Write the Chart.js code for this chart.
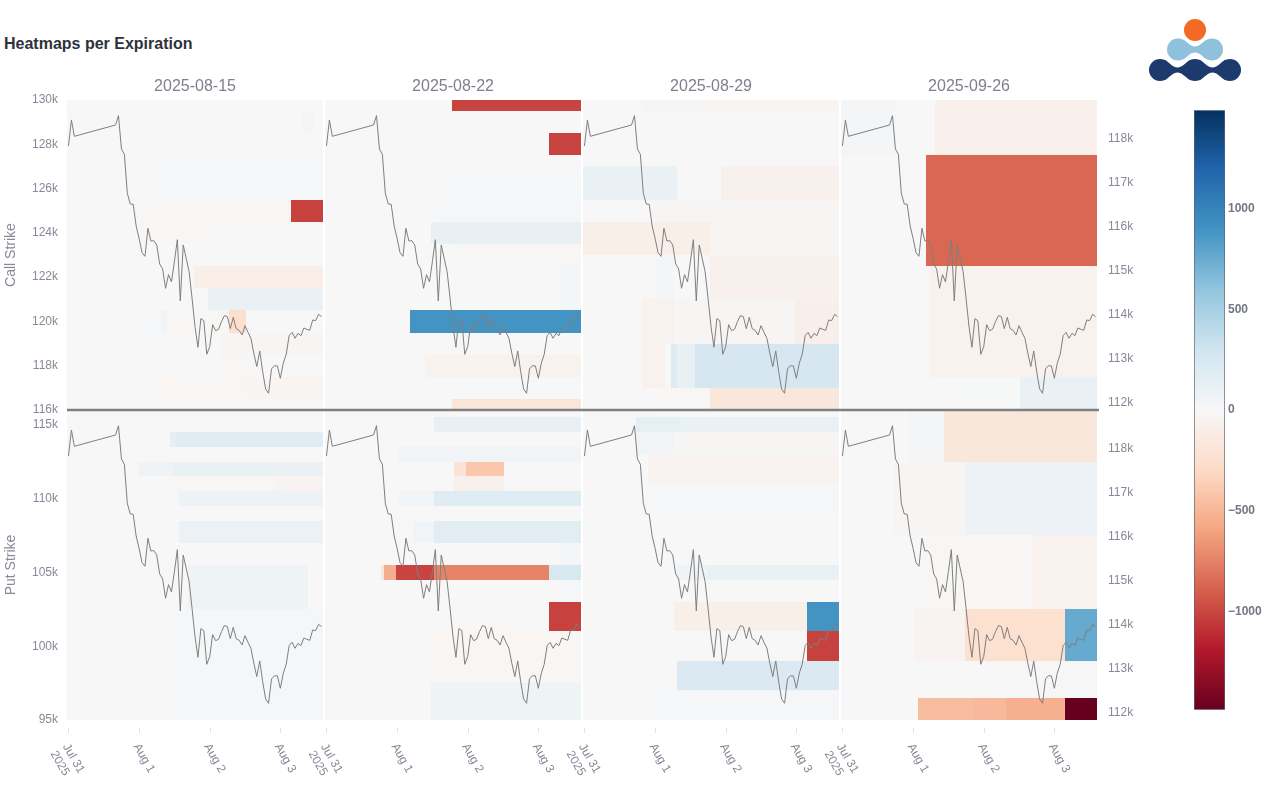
<!DOCTYPE html>
<html>
<head>
<meta charset="utf-8">
<title>Heatmaps per Expiration</title>
<script src="https://cdn.jsdelivr.net/npm/chart.js@4"></script>
<style>
  html, body { margin: 0; padding: 0; background: #fff; width: 1265px; height: 800px; overflow: hidden; }
  canvas { position: absolute; }
  #main-title { position: absolute; left: 4px; top: 35px; font: bold 16px "Liberation Sans", Arial, sans-serif; color: #2f323c; }
  #logo { position: absolute; left: 1140px; top: 10px; }
</style>
</head>
<body>
<div id="main-title">Heatmaps per Expiration</div>
<svg id="logo" width="110" height="80" viewBox="1140 10 110 80">
  <circle cx="1195" cy="30" r="11" fill="#f26a25"/>
  <g fill="#8fc1dc">
    <circle cx="1178" cy="49.5" r="11"/><circle cx="1212" cy="49.5" r="11"/>
    <path d="M1183 40 C1188 42 1190 46.5 1195 46.5 C1200 46.5 1202 42 1207 40 L1207 59 C1202 57 1200 52.5 1195 52.5 C1190 52.5 1188 57 1183 59 Z"/>
  </g>
  <g fill="#1c3a6b">
    <circle cx="1160" cy="70" r="11"/><circle cx="1195" cy="70" r="11"/><circle cx="1230" cy="70" r="11"/>
    <path d="M1165 60 C1170 63 1173 67.5 1177.5 67.5 C1182 67.5 1185 63 1190 60 L1190 80 C1185 77 1182 72.5 1177.5 72.5 C1173 72.5 1170 77 1165 80 Z"/>
    <path d="M1200 60 C1205 63 1208 67.5 1212.5 67.5 C1217 67.5 1220 63 1225 60 L1225 80 C1220 77 1217 72.5 1212.5 72.5 C1208 72.5 1205 77 1200 80 Z"/>
  </g>
</svg>
<script>
// --- DATA ---
const expirations = ['2025-08-15', '2025-08-22', '2025-08-29', '2025-09-26'];

// hours since Jul 31 00:00 and the spot price
const hours = [0, 1, 2, 16, 17, 18, 19, 20, 21, 22, 23, 24, 25, 26, 27, 28, 29, 30, 31, 32, 33, 34, 35, 36, 37, 38, 39, 40, 41, 42, 43, 44, 45, 46, 47, 48, 49, 50, 51, 52, 53, 54, 55, 56, 57, 58, 59, 60, 61, 62, 63, 64, 65, 66, 67, 68, 69, 70, 71, 72, 73, 74, 75, 76, 77, 78, 79, 80, 81, 82, 83, 84, 85, 86];
const spotPrice = [117841, 118432, 118061, 118318, 118530, 117773, 117652, 116765, 116523, 116515, 116023, 115742, 115417, 115333, 115970, 115682, 115689, 115591, 115159, 115045, 114606, 114917, 114750, 115212, 115712, 114318, 115591, 115288, 114985, 114379, 113735, 113265, 113917, 113871, 113106, 113280, 113780, 113644, 113674, 113848, 113985, 113962, 113689, 113947, 113689, 113651, 113545, 113757, 113606, 113470, 113129, 112826, 113182, 112712, 112318, 112220, 112773, 112848, 112841, 112561, 112901, 113106, 113530, 113606, 113470, 113583, 113530, 113704, 113674, 113651, 113886, 113871, 114015, 113962];

const xTickHours = [0, 24, 48, 72];
const xTickLabels = [['Jul 31', '2025'], 'Aug 1', 'Aug 2', 'Aug 3'];
const callStrikeTicks = [116000, 118000, 120000, 122000, 124000, 126000, 128000, 130000];
const putStrikeTicks = [95000, 100000, 105000, 110000, 115000];
const priceTicks = [112000, 113000, 114000, 115000, 116000, 117000, 118000];
const colorbarTicks = [-1000, -500, 0, 500, 1000];

// cells: hour from, hour to, strike low, strike high, value
const callCells0815 = [
  [31.5, 86.5, 126500, 127500, 12], [28.5, 86.5, 125500, 126500, 12],
  [22.5, 75.5, 124500, 125500, -12], [75.5, 86.5, 124500, 125500, -1020], [24.5, 51.5, 123500, 124500, -15],
  [42.5, 86.5, 121500, 122500, -95], [47.5, 86.5, 120500, 121500, 105],
  [79.5, 83.5, 128500, 129500, 30],
  [23.5, 31.5, 119500, 120500, 12], [31.5, 33.5, 119500, 120500, 55], [35.5, 54.5, 119500, 120500, -15],
  [54.5, 60.5, 119500, 120500, -260], [60.5, 75.5, 119500, 120500, 8],
  [51.5, 86.5, 118500, 119500, -30], [51.5, 60.5, 117500, 118500, -10],
  [31.5, 37.5, 116500, 117500, -25], [37.5, 60.5, 116500, 117500, -15], [60.5, 86.5, 116500, 117500, -28]
];
const callCells0822 = [
  [42.5, 86.5, 129500, 130000, -1010], [75.5, 86.5, 127500, 128500, -1010],
  [39.5, 86.5, 125500, 126500, 12], [37.5, 86.5, 124500, 125500, 18],
  [35.5, 86.5, 123500, 124500, 110], [45.5, 86.5, 122500, 123500, -10],
  [79.5, 86.5, 121500, 122500, 25], [79.5, 86.5, 120500, 121500, 35],
  [28.5, 86.5, 119500, 120500, 890], [33.5, 86.5, 117500, 118500, -55],
  [42.5, 86.5, 116000, 116500, -190]
];
const callCells0829 = [
  [19.5, 42.5, 129500, 130000, -18], [42.5, 86.5, 129500, 130000, -35],
  [-0.5, 31.5, 125500, 127000, 100], [46.5, 86.5, 125500, 127000, -70],
  [22.5, 86.5, 124500, 125500, -18],
  [-0.5, 42.5, 123000, 124500, -85], [42.5, 86.5, 123000, 124500, -18],
  [42.5, 86.5, 121000, 123000, -70], [24.5, 30.5, 121000, 123000, 35],
  [19.5, 30.5, 119000, 121000, -55], [30.5, 71.5, 119000, 121000, -22], [71.5, 86.5, 119000, 121000, -80],
  [19.5, 27.5, 117000, 119000, -60],
  [29.5, 31.5, 117000, 119000, 200], [31.5, 37.5, 117000, 119000, 110], [37.5, 86.5, 117000, 119000, 260],
  [26.5, 42.5, 116000, 117000, -10], [42.5, 86.5, 116000, 117000, -170]
];
const callCells0926 = [
  [-0.5, 18.5, 127500, 130000, 25], [31.5, 86.5, 127500, 130000, -75],
  [28.5, 86.5, 122500, 127500, -865],
  [29.5, 86.5, 117500, 122500, -65],
  [60.5, 86.5, 116000, 117500, 100], [35.5, 60.5, 116000, 117500, 6]
];
const putCells0815 = [
  [34.5, 36.5, 113500, 114500, 140], [36.5, 86.5, 113500, 114500, 190],
  [23.5, 35.5, 111500, 112500, 60], [35.5, 86.5, 111500, 112500, 100],
  [33.5, 70.5, 110500, 111500, -15], [70.5, 86.5, 110500, 111500, -40],
  [32.5, 37.5, 109500, 110500, 12], [37.5, 86.5, 109500, 110500, 75],
  [37.5, 86.5, 107000, 108500, 95],
  [40.5, 81.5, 102500, 105500, 70],
  [32.5, 86.5, 95000, 102500, 20]
];
const putCells0822 = [
  [36.5, 86.5, 114500, 115500, 110],
  [24.5, 86.5, 112500, 113500, 50],
  [43.5, 47.5, 111500, 112500, -220], [47.5, 60.5, 111500, 112500, -410],
  [43.5, 60.5, 110500, 111500, -70],
  [24.5, 36.5, 109500, 110500, 50], [36.5, 86.5, 109500, 110500, 190],
  [29.5, 36.5, 107000, 108500, 50], [36.5, 86.5, 107000, 108500, 170],
  [79.5, 86.5, 105500, 107000, 30],
  [18.5, 19.5, 104500, 105500, -180], [19.5, 23.5, 104500, 105500, -550],
  [23.5, 36.5, 104500, 105500, -1010], [36.5, 75.5, 104500, 105500, -740], [75.5, 86.5, 104500, 105500, 250],
  [79.5, 86.5, 103000, 104500, 20],
  [75.5, 86.5, 101000, 103000, -1020],
  [35.5, 86.5, 97500, 101000, -25],
  [35.5, 86.5, 95000, 97500, 70]
];
const putCells0829 = [
  [17.5, 32.5, 114500, 115500, 130], [32.5, 86.5, 114500, 115500, 100],
  [17.5, 30.5, 113000, 114500, 50], [30.5, 86.5, 113000, 114500, -20],
  [21.5, 86.5, 111000, 113000, -45],
  [23.5, 86.5, 109000, 111000, 12],
  [31.5, 41.5, 104500, 105500, 60], [41.5, 86.5, 104500, 105500, 100],
  [30.5, 75.5, 101000, 103000, -90], [75.5, 86.5, 101000, 103000, 890],
  [75.5, 86.5, 99000, 101000, -1020],
  [31.5, 86.5, 97000, 99000, 225],
  [23.5, 86.5, 95000, 97000, 15]
];
const putCells0926 = [
  [22.5, 34.5, 112500, 116000, 30], [34.5, 86.5, 112500, 116000, -170],
  [17.5, 41.5, 107500, 112500, -20], [41.5, 86.5, 107500, 112500, 90],
  [27.5, 64.5, 102500, 107500, -15], [64.5, 86.5, 102500, 107500, -60],
  [24.5, 41.5, 99000, 102500, -40], [41.5, 75.5, 99000, 102500, -240], [75.5, 86.5, 99000, 102500, 757],
  [48.5, 86.5, 96500, 99000, 10],
  [25.5, 44.5, 95000, 96500, -470], [44.5, 55.5, 95000, 96500, -490], [55.5, 75.5, 95000, 96500, -540],
  [75.5, 86.5, 95000, 96500, -1490]
];

const colorMin = -1490;
const colorMax = 1490;
const colorStops = [[103, 0, 31], [178, 24, 43], [214, 96, 77], [244, 165, 130], [253, 219, 199], [247, 247, 247], [209, 229, 240], [146, 197, 222], [67, 147, 195], [33, 102, 172], [5, 48, 97]];

// --- STYLE ---
const FONT = '"Liberation Sans", Arial, sans-serif';
const TICK_COLOR = '#868997';
const HOUR_MIN = -0.5;
const HOUR_MAX = 86.5;
const PANEL_LEFT = [67, 325, 583, 841];
const PANEL_WIDTH = 256;
const SIDE_GUTTER = 30;

function colorFor(value) {
  const t = Math.min(1, Math.max(0, (value - colorMin) / (colorMax - colorMin))) * (colorStops.length - 1);
  const i = Math.min(colorStops.length - 2, Math.floor(t));
  const f = t - i;
  const c = colorStops[i].map((v, k) => Math.round(v + (colorStops[i + 1][k] - v) * f));
  return `rgb(${c[0]},${c[1]},${c[2]})`;
}

function kLabel(v) {
  return (v / 1000) + 'k';
}

function addCanvas(left, top, width, height) {
  const c = document.createElement('canvas');
  c.width = width;
  c.height = height;
  c.style.left = left + 'px';
  c.style.top = top + 'px';
  c.style.width = width + 'px';
  c.style.height = height + 'px';
  document.body.appendChild(c);
  return c;
}

// draws the heat cells, the row divider and the detached x ticks through the chart scales
function heatPlugin(cells, isTop) {
  return {
    id: 'heatCells',
    beforeDatasetsDraw(chart) {
      const { ctx, chartArea, scales } = chart;
      ctx.save();
      ctx.fillStyle = colorFor(0);
      ctx.fillRect(chartArea.left, chartArea.top, chartArea.width, chartArea.height);
      cells.forEach(([h0, h1, s0, s1, v]) => {
        const x0 = Math.round(scales.x.getPixelForValue(h0));
        const x1 = Math.round(scales.x.getPixelForValue(h1));
        const y0 = Math.round(scales.y.getPixelForValue(s1));
        const y1 = Math.round(scales.y.getPixelForValue(s0));
        ctx.fillStyle = colorFor(v);
        ctx.fillRect(x0, y0, x1 - x0, y1 - y0);
      });
      ctx.restore();
    },
    afterDatasetsDraw(chart) {
      const { ctx, chartArea, scales } = chart;
      ctx.save();
      if (isTop) {
        const y = scales.y.getPixelForValue(scales.y.min);
        ctx.strokeStyle = '#808080';
        ctx.lineWidth = 2.5;
        ctx.beginPath();
        ctx.moveTo(chartArea.left, y);
        ctx.lineTo(chartArea.right + 2, y);
        ctx.stroke();
      } else {
        ctx.strokeStyle = '#e2e2e2';
        ctx.lineWidth = 1;
        xTickHours.forEach(h => {
          const x = Math.round(scales.x.getPixelForValue(h)) + 0.5;
          ctx.beginPath();
          ctx.moveTo(x, chartArea.bottom + 8);
          ctx.lineTo(x, chartArea.bottom + 13);
          ctx.stroke();
        });
      }
      ctx.restore();
    }
  };
}

function makePanel(col, isTop, cells) {
  const showLeft = col === 0;
  const showRight = col === 3;
  const gutterL = showLeft ? PANEL_LEFT[0] : SIDE_GUTTER;
  const gutterR = showRight ? 43 : SIDE_GUTTER;
  const top = isTop ? 77 : 410;
  const height = isTop ? 343 : 380;
  const canvas = addCanvas(PANEL_LEFT[col] - gutterL, top, gutterL + PANEL_WIDTH + gutterR, height);

  new Chart(canvas.getContext('2d'), {
    type: 'line',
    data: {
      datasets: [{
        data: hours.map((h, i) => ({ x: h, y: spotPrice[i] })),
        xAxisID: 'x',
        yAxisID: 'y1',
        borderColor: '#7f7f7f',
        borderWidth: 1,
        pointRadius: 0,
        tension: 0
      }]
    },
    options: {
      responsive: false,
      animation: false,
      devicePixelRatio: 1,
      events: [],
      layout: {
        padding: {
          left: showLeft ? 0 : SIDE_GUTTER,
          right: showRight ? 0 : SIDE_GUTTER,
          top: 0,
          bottom: isTop ? 10 : 0
        }
      },
      plugins: {
        legend: { display: false },
        tooltip: { enabled: false },
        title: {
          display: isTop,
          fullSize: false,
          text: expirations[col],
          color: '#7d808d',
          font: { family: FONT, size: 16, weight: 'normal', lineHeight: '20px' },
          padding: { top: 0, bottom: 3 }
        }
      },
      scales: {
        x: {
          type: 'linear',
          min: HOUR_MIN,
          max: HOUR_MAX,
          display: !isTop,
          grid: { display: false, drawTicks: false },
          border: { display: false },
          afterBuildTicks: s => { s.ticks = xTickHours.map(v => ({ value: v })); },
          afterFit: s => {
            if (isTop) return;
            s.height = 70;
            s.paddingLeft = 0;
            s.paddingRight = 0;
            s._getXAxisLabelAlignment = () => 'left';
          },
          ticks: {
            autoSkip: false,
            minRotation: -60,
            maxRotation: -60,
            padding: 21,
            labelOffset: -3,
            color: TICK_COLOR,
            font: { family: FONT, size: 12 },
            callback: (v, i) => xTickLabels[i]
          }
        },
        y: {
          type: 'linear',
          position: 'left',
          min: isTop ? 116000 : 95000,
          max: isTop ? 130000 : 116000,
          display: showLeft,
          grid: { display: false, drawTicks: false },
          border: { display: false },
          afterBuildTicks: s => { s.ticks = (isTop ? callStrikeTicks : putStrikeTicks).map(v => ({ value: v })); },
          afterFit: s => {
            if (!showLeft) return;
            s.width = PANEL_LEFT[0];
            s.paddingTop = 0;
            s.paddingBottom = 0;
          },
          title: {
            display: true,
            text: isTop ? 'Call Strike' : 'Put Strike',
            color: TICK_COLOR,
            font: { family: FONT, size: 14 },
            padding: { top: 3, bottom: 0 }
          },
          ticks: {
            padding: 9,
            color: TICK_COLOR,
            font: { family: FONT, size: 12 },
            callback: kLabel
          }
        },
        y1: {
          type: 'linear',
          position: 'right',
          min: 111840,
          max: 118886,
          display: showRight,
          grid: { display: false, drawTicks: false },
          border: { display: false },
          afterBuildTicks: s => { s.ticks = priceTicks.map(v => ({ value: v })); },
          afterFit: s => {
            if (!showRight) return;
            s.width = 43;
            s.paddingTop = 0;
            s.paddingBottom = 0;
          },
          ticks: {
            padding: 11,
            color: TICK_COLOR,
            font: { family: FONT, size: 12 },
            callback: kLabel
          }
        }
      }
    },
    plugins: [heatPlugin(cells, isTop)]
  });
}

function makeColorbar() {
  const canvas = addCanvas(1194, 100, 71, 620);
  new Chart(canvas.getContext('2d'), {
    type: 'bar',
    data: {
      labels: ['value'],
      datasets: [{
        data: [[colorMin, colorMax]],
        barPercentage: 1,
        categoryPercentage: 1,
        borderSkipped: false,
        borderWidth: 1,
        borderColor: '#5f6470',
        backgroundColor: ctx => {
          const area = ctx.chart.chartArea;
          if (!area) return '#cccccc';
          const g = ctx.chart.ctx.createLinearGradient(0, area.bottom, 0, area.top);
          colorStops.forEach((c, i) => g.addColorStop(i / (colorStops.length - 1), `rgb(${c[0]},${c[1]},${c[2]})`));
          return g;
        }
      }]
    },
    options: {
      responsive: false,
      animation: false,
      devicePixelRatio: 1,
      events: [],
      layout: { padding: { top: 10, bottom: 10 } },
      plugins: { legend: { display: false }, tooltip: { enabled: false } },
      scales: {
        x: { display: false },
        y: {
          position: 'right',
          min: colorMin,
          max: colorMax,
          grid: { display: false, drawTicks: false },
          border: { display: false },
          afterBuildTicks: s => { s.ticks = colorbarTicks.map(v => ({ value: v })); },
          afterFit: s => { s.width = 40; },
          ticks: {
            padding: 3,
            color: '#737684',
            font: { family: FONT, size: 12, weight: 'bold' },
            callback: v => (v < 0 ? '\u2212' + Math.abs(v) : String(v))
          }
        }
      }
    }
  });
}

// --- MAIN ---
const callCells = [callCells0815, callCells0822, callCells0829, callCells0926];
const putCells = [putCells0815, putCells0822, putCells0829, putCells0926];
// bottom row first so the divider of the top row stays on top
expirations.forEach((_, col) => makePanel(col, false, putCells[col]));
expirations.forEach((_, col) => makePanel(col, true, callCells[col]));
makeColorbar();
</script>
</body>
</html>
